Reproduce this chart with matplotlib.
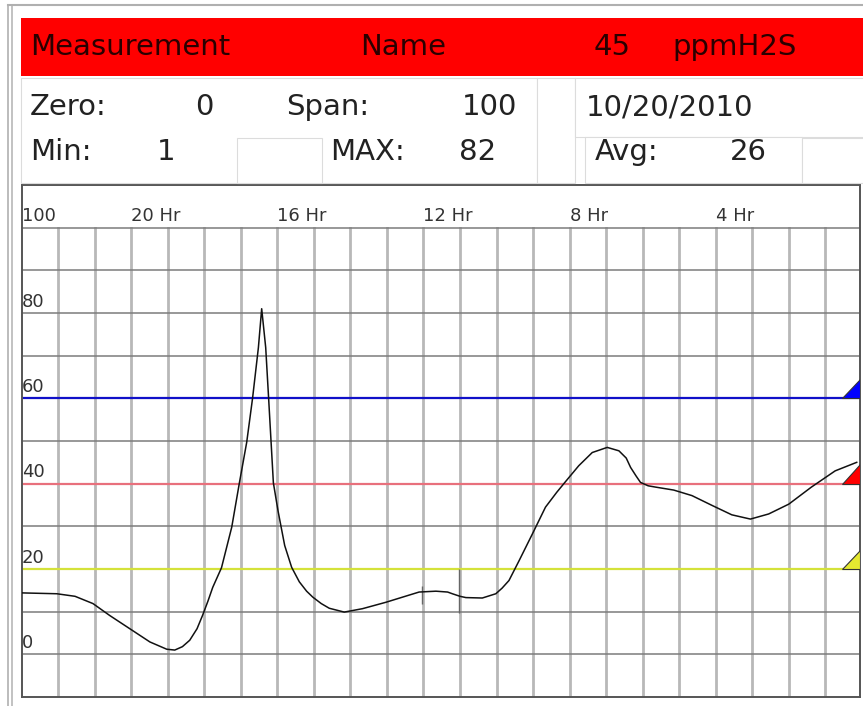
import matplotlib
matplotlib.use('Agg')
import matplotlib.pyplot as plt
from matplotlib.patches import Rectangle, Polygon
from matplotlib.lines import Line2D

# Trend data: hours ago vs gas reading (ppm)
hours = [24.00, 23.04, 22.54, 22.05, 21.59, 21.04, 20.49, 20.03, 19.81, 19.60,
         19.40, 19.20, 19.05, 18.90, 18.77, 18.53, 18.25, 18.04, 17.84, 17.68,
         17.52, 17.43, 17.32, 17.24, 17.11, 16.98, 16.80, 16.61, 16.40, 16.20,
         16.03, 15.80, 15.58, 15.17, 14.67, 14.03, 13.50, 13.12, 12.66, 12.34,
         12.21, 12.00, 11.84, 11.39, 11.02, 10.85, 10.66, 10.38, 10.02, 9.66,
         9.35, 9.11, 8.75, 8.38, 7.97, 7.65, 7.45, 7.33, 7.18, 7.06,
         6.85, 6.65, 6.15, 5.65, 5.10, 4.56, 4.05, 3.55, 3.00, 2.38,
         1.73, 1.14]
ppm = [14.4, 14.2, 13.6, 11.9, 9.1, 6.0, 2.9, 1.2, 1.0, 1.8,
       3.3, 6.0, 9.1, 12.5, 15.7, 20.3, 29.8, 40.2, 49.7, 60.0,
       71.9, 81.0, 71.9, 60.0, 40.2, 33.5, 25.5, 20.4, 17.0, 14.8,
       13.4, 11.9, 10.8, 9.9, 10.7, 12.2, 13.6, 14.6, 14.8, 14.6,
       14.2, 13.6, 13.3, 13.2, 14.2, 15.5, 17.3, 22.0, 28.2, 34.5,
       38.0, 40.5, 44.2, 47.3, 48.5, 47.7, 46.0, 43.8, 41.8, 40.3,
       39.5, 39.2, 38.5, 37.2, 34.9, 32.7, 31.7, 32.9, 35.2, 39.2,
       43.0, 45.0]

# event marks on the trace
event_hours = [13.03, 12.02]
event_lo = [11.9, 9.8]
event_hi = [16.1, 20.1]

# alarm levels
alarm_levels = [60, 40, 20]
alarm_line_colors = ['#1010c8', '#e8707c', '#d4e23a']
alarm_tri_colors = ['#0000ff', '#ff0000', '#e4e830']

y_labels = [100, 80, 60, 40, 20, 0]
hour_labels = [20, 16, 12, 8, 4]

header_words = [('Measurement', 30), ('Name', 360), ('45', 594), ('ppmH2S', 672)]
row1 = [('Zero:', 30), ('0', 195), ('Span:', 286), ('100', 462), ('10/20/2010', 586)]
row2 = [('Min:', 30), ('1', 157), ('MAX:', 330), ('82', 459), ('Avg:', 595), ('26', 730)]

W, H = 863, 706


def fx(px):
    return px / W


def fy(py):
    return 1 - py / H


fig = plt.figure(figsize=(W / 100, H / 100), dpi=100)
fig.patch.set_facecolor('white')

# outer screen frame
fig.add_artist(Line2D([fx(8), fx(8)], [fy(5), fy(706)], color='#b0b0b0', lw=1.2))
fig.add_artist(Line2D([fx(11.5), fx(11.5)], [fy(5), fy(706)], color='#b8b8b8', lw=1.2))
fig.add_artist(Line2D([fx(8), fx(863)], [fy(5), fy(5)], color='#b0b0b0', lw=1.5))

# red title bar
fig.add_artist(Rectangle((fx(21), fy(76)), fx(863) - fx(21), (76 - 18) / H,
                         transform=fig.transFigure, facecolor='#ff0000', edgecolor='none'))
for word, x in header_words:
    fig.text(fx(x), fy(55), word, fontsize=21, color='#2a0000', ha='left', va='baseline')

# info boxes (faint outlines)
boxes = [(21, 78, 537, 183), (237, 138, 322, 183), (537, 78, 575, 183),
         (575, 78, 870, 137), (585, 137, 802, 183), (802, 138, 870, 183)]
for x0, y0, x1, y1 in boxes:
    fig.add_artist(Rectangle((fx(x0), fy(y1)), fx(x1) - fx(x0), (y1 - y0) / H,
                             transform=fig.transFigure, facecolor='white',
                             edgecolor='#dcdcdc', lw=0.8))
for word, x in row1:
    fig.text(fx(x), fy(115), word, fontsize=21, color='#222222', ha='left', va='baseline')
for word, x in row2:
    fig.text(fx(x), fy(160), word, fontsize=21, color='#222222', ha='left', va='baseline')

# trend chart
ax = fig.add_axes([fx(21.7), fy(697), fx(860) - fx(21.7), (697 - 185) / H])
ax.set_xlim(24, 1.05)
ax.set_ylim(-10, 110)
ax.set_xticks([])
ax.set_yticks([])
for s in ax.spines.values():
    s.set_color('#555555')
    s.set_linewidth(1.4)

for h in range(2, 24):
    ax.plot([h, h], [-10, 100], color='#b8b8b8', lw=2.0, zorder=1)
for v in range(0, 101, 10):
    ax.axhline(v, color='#7c7c7c', lw=1.1, zorder=1.5)

x_right = ax.get_xlim()[1]
for lvl, lc, tc in zip(alarm_levels, alarm_line_colors, alarm_tri_colors):
    ax.axhline(lvl, color=lc, lw=1.6, zorder=2)
    tri = Polygon([(x_right + 0.5, lvl), (x_right, lvl), (x_right, lvl + 4.5)],
                  closed=True, facecolor=tc, edgecolor='#333333', lw=0.8, zorder=4)
    ax.add_patch(tri)

ax.vlines(event_hours, event_lo, event_hi, color='#666666', lw=1.0, zorder=2.5)
ax.plot(hours, ppm, color='#111111', lw=1.1, zorder=3, solid_joinstyle='round')

for v in y_labels:
    ax.text(24, v + 1.5, str(v), fontsize=13, color='#333333', ha='left', va='baseline')
for h in hour_labels:
    ax.text(h + 1, 101.5, '%d Hr' % h, fontsize=13, color='#333333', ha='left', va='baseline')

fig.savefig('out.png', dpi=100)
